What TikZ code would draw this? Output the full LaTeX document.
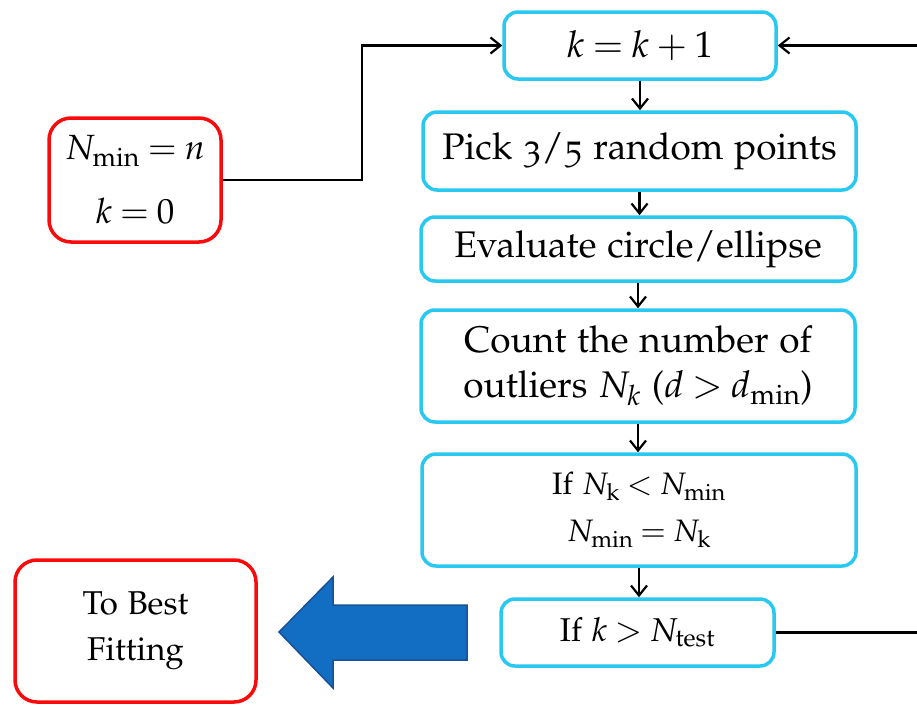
\documentclass[tikz,border=0pt]{standalone}
\usepackage[T1]{fontenc}
\usepackage[osf]{mathpazo}
\usepackage{amsmath}
\usepackage{tikz}
\usetikzlibrary{arrows.meta}
\definecolor{boxblue}{RGB}{40,200,240}
\definecolor{boxred}{RGB}{250,10,10}
\definecolor{arrowfill}{RGB}{18,110,195}
\definecolor{arrowline}{RGB}{25,80,150}
\newcommand{\sub}[1]{\text{#1}}
\thickmuskip=4mu plus 2mu

\tikzset{
  stepblue/.style={draw=boxblue,line width=3.5pt,rounded corners=14pt,fill=white,align=center,inner sep=0pt},
  stepred/.style={draw=boxred,line width=3.5pt,rounded corners=22pt,fill=white,align=center,inner sep=0pt},
  flow/.style={-{Straight Barb[length=10pt,width=16pt]},line width=2.2pt},
  bigtxt/.style={font=\fontsize{37}{45}\selectfont},
  midtxt/.style={font=\fontsize{33}{46}\selectfont}
}

\begin{document}
\begin{tikzpicture}[x=1pt,y=-1pt]
    \useasboundingbox (0,0) rectangle (917,704);
    % main loop column
    \node[stepblue,bigtxt,minimum width=272pt,minimum height=67pt] (kinc) at (640,45.5){$k=k+1$};
    \node[stepblue,bigtxt,minimum width=433pt,minimum height=78pt] (pick) at (639.5,151){Pick 3/5 random points};
    \node[stepblue,bigtxt,minimum width=434pt,minimum height=64pt] (eval) at (638,249){Evaluate circle/ellipse};
    \node[stepblue,bigtxt,minimum width=434pt,minimum height=112pt] (count) at (638,366){Count the number of\\outliers $N_k$ ($d>d_{\sub{min}}$)};
    \node[stepblue,font=\fontsize{31}{47}\selectfont,minimum width=434pt,minimum height=112pt] (update) at (639,510){If $N_{\sub{k}}<N_{\sub{min}}$\\$N_{\sub{min}}=N_{\sub{k}}$};
    \node[stepblue,midtxt,minimum width=273pt,minimum height=67pt] (ktest) at (637.5,632.5){If $k>N_{\sub{test}}$};
    % start and exit
    \node[stepred,font=\fontsize{35}{64}\selectfont,minimum width=172pt,minimum height=124pt] (init) at (135,180){$N_{\sub{min}}=n$\\$k=0$};
    \node[stepred,midtxt,minimum width=241pt,minimum height=142pt] (best) at (135.5,631){To Best\\Fitting};
    \draw[arrowline,fill=arrowfill,line width=1.5pt,line join=miter] (279,632)--(333,577)--(333,605)--(467,605)--(467,660)--(333,660)--(333,688)--cycle;
    % connectors
    \coordinate (loopin) at (917,45.5);
    \coordinate (loopout) at (917,632.5);
    \draw[flow] (init.east) -- ++(139,0) |- (kinc.west);
    \draw[flow] (loopin) -- (kinc.east);
    \draw[line width=2.2pt] (ktest.east) -- (loopout);
    \draw[flow] (kinc.south) -- (kinc.south |- pick.north);
    \draw[flow] (pick.south) -- (pick.south |- eval.north);
    \draw[flow] (eval.south) -- (eval.south |- count.north);
    \draw[flow] (count.south) -- (count.south |- update.north);
    \draw[flow] (update.south) -- (update.south |- ktest.north);
\end{tikzpicture}
\end{document}
